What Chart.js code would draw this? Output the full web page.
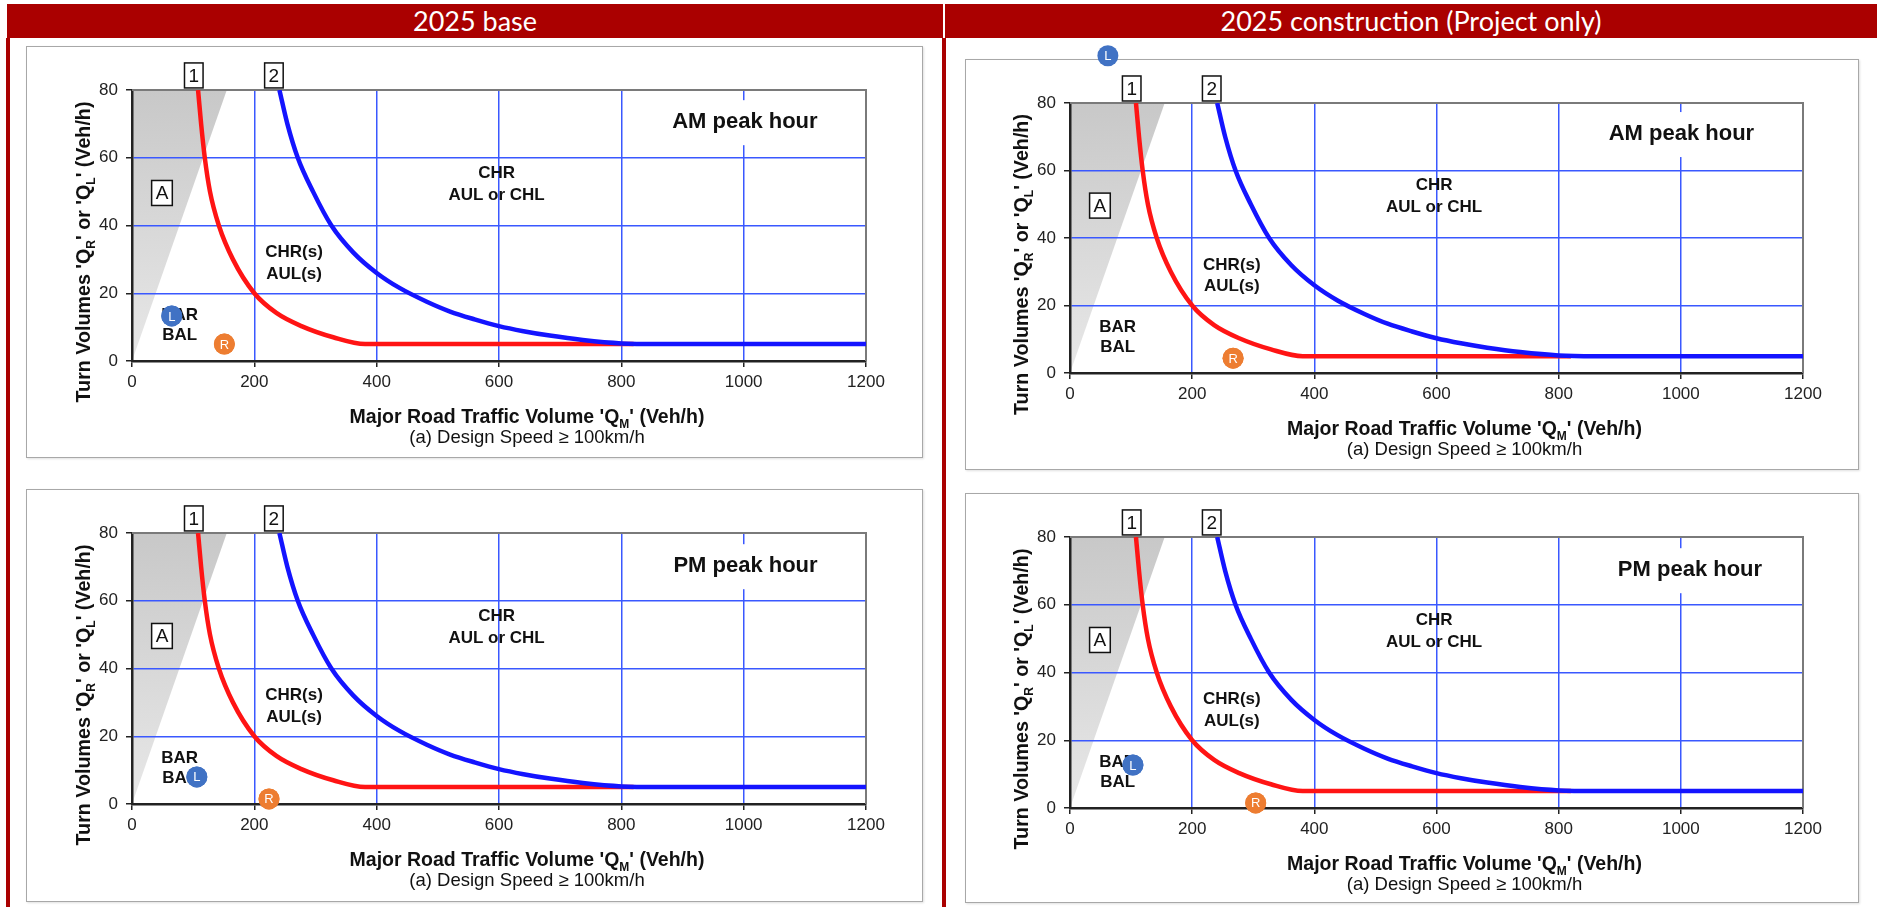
<!DOCTYPE html>
<html>
<head>
<meta charset="utf-8">
<script src="https://cdn.jsdelivr.net/npm/chart.js@4.4.1/dist/chart.umd.min.js"></script>
<style>
    html, body { margin: 0; padding: 0; background: #fff; }
    body { width: 1877px; height: 907px; position: relative; overflow: hidden; }
    .head { position: absolute; top: 4px; height: 34px; background: #aa0000; color: #fff;
        font-family: Lato, 'Open Sans', sans-serif; font-size: 27px; line-height: 34px; text-align: center; }
    .rule { position: absolute; top: 38px; bottom: 0; width: 4px; background: #aa0000; }
    .panel { position: absolute; box-sizing: border-box; border: 1px solid #a8a8a8;
        box-shadow: 1px 1px 2px rgba(0, 0, 0, .12); background: #fff; }
    canvas { position: absolute; }
</style>
</head>
<body>
<div class="head" id="head-0" style="left:7px;width:936px"></div>
<div class="head" id="head-1" style="left:945px;width:932px"></div>
<div class="rule" style="left:6px"></div>
<div class="rule" style="left:942px"></div>

<script>
// column headers
const columnTitles = ['2025 base', '2025 construction (Project only)'];

// panel order: base AM, construction AM, base PM, construction PM
const peakText = ['AM peak hour', 'AM peak hour', 'PM peak hour', 'PM peak hour'];
const peakX = [1002, 1001, 1003, 1015];
const peakY = [70.5, 70.8, 70.2, 70.2];

// turning volume markers (L = left turn, R = right turn)
const leftTurnX = [65, 62, 106, 103];
const leftTurnY = [13.3, 94, 8.0, 12.7];
const rightTurnX = [151, 267, 224, 304];
const rightTurnY = [5.0, 4.4, 1.5, 1.5];

// warrant curve 1 (red)
const curve1X = [108, 113, 119, 127.5, 142, 165, 200, 236, 277, 329, 381, 600, 820];
const curve1Y = [80, 70, 60, 50, 40, 30, 20, 14.2, 10.3, 7.0, 5, 5, 5];

// warrant curve 2 (blue)
const curve2X = [241, 254, 271, 296, 326, 362, 400, 438, 482, 520, 560, 600, 640, 683, 737, 800, 860, 1200];
const curve2Y = [80, 70, 60, 50, 40, 32, 26, 21.5, 17.5, 14.6, 12.3, 10.3, 8.8, 7.5, 6.2, 5.2, 5, 5];

// shaded area A
const zoneAX = [0, 0, 155];
const zoneAY = [0, 80, 80];

// region labels
const zoneLabels = ['CHR', 'AUL or CHL', 'CHR(s)', 'AUL(s)', 'BAR', 'BAL'];
const zoneLabelX = [596, 596, 265, 265, 78, 78];
const zoneLabelY = [55.5, 49, 32, 25.7, 13.6, 7.7];

// boxed labels
const boxedLabels = ['1', '2', 'A'];
const boxedX = [101, 232, 49];
const boxedY = [84.3, 84.3, 49.6];

// axes
const xTicks = [0, 200, 400, 600, 800, 1000, 1200];
const xTickLabels = ['0', '200', '400', '600', '800', '1000', '1200'];
const yTicks = [0, 20, 40, 60, 80];
const yTickLabels = ['0', '20', '40', '60', '80'];
const xTitle = [{ t: "Major Road Traffic Volume 'Q" }, { t: 'M', sub: true }, { t: "' (Veh/h)" }];
const yTitle = [{ t: "Turn Volumes 'Q" }, { t: 'R', sub: true }, { t: "' or 'Q" }, { t: 'L', sub: true }, { t: "' (Veh/h)" }];
const subTitle = '(a) Design Speed \u2265 100km/h';

// page layout of each panel: frame box and plot area [left, top, right, bottom]
const panels = [
    { box: [26, 46, 923, 458], plot: [132, 90, 866, 361] },
    { box: [965, 59, 1859, 470], plot: [1070, 103, 1803, 373] },
    { box: [26, 489, 923, 902], plot: [132, 533, 866, 804] },
    { box: [965, 493, 1859, 903], plot: [1070, 537, 1803, 808] },
];

const FONT = "'Liberation Sans', Arial, sans-serif";
const GRID_BLUE = 'rgb(58, 88, 255)';
const EXTRA_TOP = 22;
const Y_AXIS_W = 40;
const X_AXIS_H = 30;

Chart.defaults.font.family = FONT;

columnTitles.forEach((t, i) => document.getElementById('head-' + i).textContent = t);

function drawRich(ctx, parts, cx, cy, size) {
    const big = 'bold ' + size + 'px ' + FONT;
    const small = 'bold ' + Math.round(size * 0.62) + 'px ' + FONT;
    let w = 0;
    parts.forEach(p => {
        ctx.font = p.sub ? small : big;
        p.w = ctx.measureText(p.t).width;
        w += p.w;
    });
    let xx = cx - w / 2;
    const base = cy + size * 0.36;
    ctx.textAlign = 'left';
    ctx.textBaseline = 'alphabetic';
    parts.forEach(p => {
        ctx.font = p.sub ? small : big;
        ctx.fillText(p.t, xx, base + (p.sub ? size * 0.26 : 0));
        xx += p.w;
    });
}

const decoPlugin = {
    id: 'deco',
    beforeDatasetsDraw(chart, args, opts) {
        const { ctx, chartArea: a, scales: { x, y } } = chart;
        const idx = opts.panel;
        ctx.save();

        // frame (top & right)
        ctx.strokeStyle = '#7a7a7a';
        ctx.lineWidth = 2;
        ctx.beginPath();
        ctx.moveTo(a.left, a.top);
        ctx.lineTo(a.right, a.top);
        ctx.lineTo(a.right, a.bottom);
        ctx.stroke();

        // region labels
        ctx.fillStyle = '#111';
        ctx.font = 'bold 17px ' + FONT;
        ctx.textAlign = 'center';
        ctx.textBaseline = 'middle';
        zoneLabels.forEach((t, i) =>
            ctx.fillText(t, x.getPixelForValue(zoneLabelX[i]), y.getPixelForValue(zoneLabelY[i])));

        // boxed labels
        ctx.font = '19px ' + FONT;
        boxedLabels.forEach((t, i) => {
            const px = x.getPixelForValue(boxedX[i]), py = y.getPixelForValue(boxedY[i]);
            const w = ctx.measureText(t).width + 8, h = 25;
            ctx.fillStyle = '#fff';
            ctx.fillRect(px - w / 2, py - h / 2, w, h);
            ctx.strokeStyle = '#111';
            ctx.lineWidth = 1.5;
            ctx.strokeRect(px - w / 2, py - h / 2, w, h);
            ctx.fillStyle = '#111';
            ctx.fillText(t, px, py + 1);
        });

        // peak hour label
        ctx.font = 'bold 22px ' + FONT;
        const px = x.getPixelForValue(peakX[idx]), py = y.getPixelForValue(peakY[idx]);
        const pw = ctx.measureText(peakText[idx]).width + 14;
        ctx.fillStyle = '#fff';
        ctx.fillRect(px - pw / 2, py - 22, pw, 45);
        ctx.fillStyle = '#111';
        ctx.fillText(peakText[idx], px, py);

        // axis titles
        const midX = (a.left + a.right) / 2 + 28;
        drawRich(ctx, xTitle, midX, a.bottom + 55, 19.5);
        ctx.font = '18.5px ' + FONT;
        ctx.textAlign = 'center';
        ctx.textBaseline = 'middle';
        ctx.fillText(subTitle, midX, a.bottom + 77);

        ctx.translate(a.left - 49, (a.top + a.bottom) / 2 + 26.5);
        ctx.rotate(-Math.PI / 2);
        drawRich(ctx, yTitle, 0, 0, 19.7);
        ctx.restore();
    },
    afterDatasetsDraw(chart) {
        const ctx = chart.ctx;
        const whole = { left: 0, top: 0, right: chart.width, bottom: chart.height };
        ctx.save();
        chart.data.datasets.forEach((ds, i) => {
            if (!ds.letter) return;
            chart.getDatasetMeta(i).data.forEach(pt => {
                // markers may sit outside the plot area (e.g. above 80)
                pt.draw(ctx, whole);
                ctx.fillStyle = '#fff';
                ctx.font = '13px ' + FONT;
                ctx.textAlign = 'center';
                ctx.textBaseline = 'middle';
                ctx.fillText(ds.letter, pt.x, pt.y + 1);
            });
        });
        ctx.restore();
    }
};

function zoneFill(context) {
    const chart = context.chart;
    const a = chart.chartArea;
    if (!a) return 'rgba(150,150,150,0.4)';
    const g = chart.ctx.createLinearGradient(0, a.top, 0, a.bottom);
    g.addColorStop(0, 'rgb(200, 200, 200)');
    g.addColorStop(1, 'rgb(232, 232, 232)');
    return g;
}

function makeChart(i) {
    const p = panels[i];
    const [bl, bt, br, bb] = p.box;
    const [pl, pt, pr, pb] = p.plot;

    const frame = document.createElement('div');
    frame.className = 'panel';
    frame.style.left = bl + 'px';
    frame.style.top = bt + 'px';
    frame.style.width = (br - bl) + 'px';
    frame.style.height = (bb - bt) + 'px';
    document.body.appendChild(frame);

    const canvas = document.createElement('canvas');
    canvas.width = br - bl;
    canvas.height = bb - bt + EXTRA_TOP;
    canvas.style.left = bl + 'px';
    canvas.style.top = (bt - EXTRA_TOP) + 'px';
    document.body.appendChild(canvas);

    const gridColor = (ctx, ends) => ends.includes(ctx.tick.value) ? 'rgba(0,0,0,0)' : GRID_BLUE;

    new Chart(canvas.getContext('2d'), {
        type: 'scatter',
        data: {
            datasets: [
                {
                    data: [{ x: leftTurnX[i], y: leftTurnY[i] }],
                    letter: 'L',
                    pointRadius: 10.5,
                    pointBackgroundColor: 'rgb(64, 114, 196)',
                    pointBorderWidth: 0,
                    clip: false,
                },
                {
                    data: [{ x: rightTurnX[i], y: rightTurnY[i] }],
                    letter: 'R',
                    pointRadius: 10.5,
                    pointBackgroundColor: 'rgb(237, 125, 49)',
                    pointBorderWidth: 0,
                    clip: false,
                },
                {
                    data: curve2X.map((v, k) => ({ x: v, y: curve2Y[k] })),
                    showLine: true,
                    cubicInterpolationMode: 'monotone',
                    borderColor: 'rgb(20, 20, 255)',
                    borderWidth: 4.5,
                    pointRadius: 0,
                },
                {
                    data: curve1X.map((v, k) => ({ x: v, y: curve1Y[k] })),
                    showLine: true,
                    cubicInterpolationMode: 'monotone',
                    borderColor: 'rgb(255, 20, 20)',
                    borderWidth: 4.5,
                    pointRadius: 0,
                },
                {
                    data: zoneAX.map((v, k) => ({ x: v, y: zoneAY[k] })),
                    showLine: true,
                    fill: 'shape',
                    backgroundColor: zoneFill,
                    borderColor: 'rgba(0,0,0,0)',
                    borderWidth: 0,
                    pointRadius: 0,
                },
            ]
        },
        options: {
            responsive: false,
            animation: false,
            devicePixelRatio: 1,
            events: [],
            layout: {
                padding: {
                    left: pl - bl - Y_AXIS_W,
                    top: pt - (bt - EXTRA_TOP),
                    right: br - pr,
                    bottom: bb - pb - X_AXIS_H,
                }
            },
            plugins: {
                legend: { display: false },
                tooltip: { enabled: false },
                filler: { drawTime: 'beforeDraw' },
                deco: { panel: i },
            },
            scales: {
                x: {
                    type: 'linear',
                    min: 0,
                    max: 1200,
                    afterBuildTicks: s => { s.ticks = xTicks.map(v => ({ value: v })); },
                    afterFit: s => { s.height = X_AXIS_H; },
                    ticks: {
                        color: '#222', font: { size: 17 }, padding: 5, maxRotation: 0,
                        callback: v => xTickLabels[xTicks.indexOf(v)],
                    },
                    grid: {
                        color: ctx => gridColor(ctx, [0, 1200]),
                        lineWidth: 1.5,
                        tickColor: '#222',
                        tickLength: 6,
                        tickWidth: 1.5,
                    },
                    border: { color: '#222', width: 2.5 },
                },
                y: {
                    type: 'linear',
                    min: 0,
                    max: 80,
                    afterBuildTicks: s => { s.ticks = yTicks.map(v => ({ value: v })); },
                    afterFit: s => { s.width = Y_AXIS_W; },
                    ticks: {
                        color: '#222', font: { size: 17 }, padding: 8,
                        callback: v => yTickLabels[yTicks.indexOf(v)],
                    },
                    grid: {
                        color: ctx => gridColor(ctx, [0, 80]),
                        lineWidth: 1.5,
                        tickColor: '#222',
                        tickLength: 6,
                        tickWidth: 1.5,
                    },
                    border: { color: '#222', width: 2.5 },
                },
            }
        },
        plugins: [decoPlugin]
    });
}

panels.forEach((p, i) => makeChart(i));
</script>
</body>
</html>
